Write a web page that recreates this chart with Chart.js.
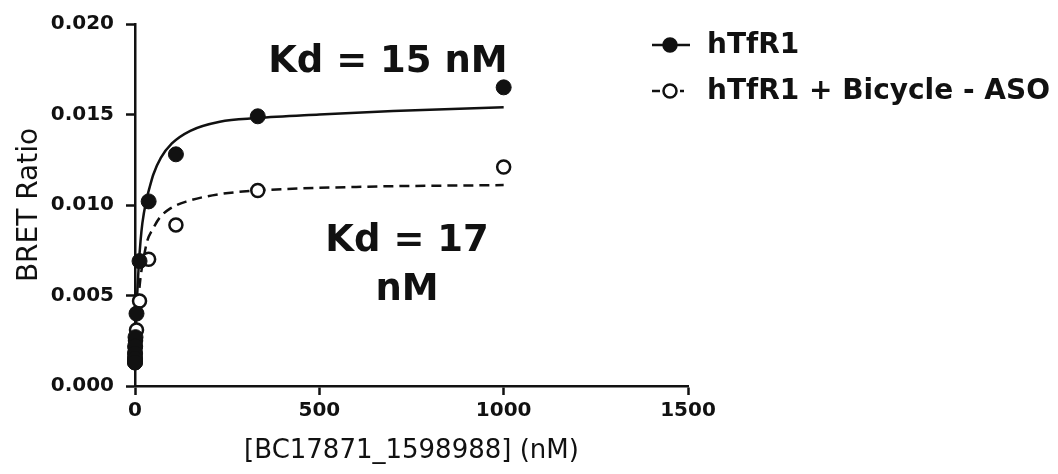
<!DOCTYPE html>
<html>
<head>
<meta charset="utf-8">
<script src="https://cdn.jsdelivr.net/npm/chart.js@4/dist/chart.umd.min.js"></script>
<style>
html,body{margin:0;padding:0;background:#fff;}
#wrap{width:1058px;height:474px;}
</style>
</head>
<body>
<div id="wrap"><canvas id="c" width="1058" height="474"></canvas></div>
<script>
// ---- data ----
const concentrations = [1000, 333, 111, 37, 12.3, 4.1, 1.37, 0.46, 0.15, 0.05, 0.017, 0.006];
const hTfR1Values    = [0.0165, 0.0149, 0.0128, 0.0102, 0.0069, 0.0040, 0.0027, 0.0022, 0.0018, 0.0015, 0.0013, 0.0013];
const bicycleValues  = [0.0121, 0.0108, 0.0089, 0.0070, 0.0047, 0.0031, 0.0025, 0.0021, 0.0018, 0.0016, 0.0015, 0.0014];

const fitSolidX = [0, 2, 5, 10, 15, 20, 30, 40, 50, 70, 100, 150, 230, 330, 500, 700, 1000];
const fitSolidY = [0.0010, 0.0028, 0.0046, 0.0066, 0.0080, 0.0090, 0.0102, 0.0110, 0.0117, 0.0126, 0.0134, 0.0141, 0.0146, 0.0148, 0.0150, 0.0152, 0.0154];
const fitDashX  = [0, 2, 5, 10, 15, 22, 33, 49, 67, 95, 141, 230, 333, 600, 1000];
const fitDashY  = [0.0010, 0.0020, 0.0033, 0.0049, 0.0060, 0.0069, 0.0080, 0.0087, 0.0093, 0.0098, 0.0102, 0.0106, 0.0108, 0.0110, 0.0111];

const seriesLabels = ['hTfR1', 'hTfR1 + Bicycle - ASO'];
const xTicks = [0, 500, 1000, 1500];
const yTicks = [0.000, 0.005, 0.010, 0.015, 0.020];
const xTitle = '[BC17871_1598988] (nM)';
const yTitle = 'BRET Ratio';
const kdNotes = [
  {text: 'Kd = 15 nM', x: 686, y: 0.0179},
  {text: 'Kd = 17',    x: 738, y: 0.0080},
  {text: 'nM',         x: 738, y: 0.0053}
];

const pts = (xs, ys) => xs.map((x, i) => ({x: x, y: ys[i]}));

const kdPlugin = {
  id: 'kdNotes',
  afterDatasetsDraw(chart) {
    const {ctx, scales} = chart;
    ctx.save();
    ctx.fillStyle = '#111';
    ctx.font = 'bold 37px "DejaVu Sans"';
    ctx.textAlign = 'center';
    ctx.textBaseline = 'middle';
    kdNotes.forEach(n => {
      ctx.fillText(n.text, scales.x.getPixelForValue(n.x), scales.y.getPixelForValue(n.y));
    });
    ctx.restore();
  }
};

const legendPlugin = {
  id: 'sideLegend',
  afterDraw(chart) {
    const {ctx} = chart;
    ctx.save();
    ctx.font = 'bold 28px "DejaVu Sans"';
    ctx.textBaseline = 'middle';
    ctx.textAlign = 'left';
    ctx.fillStyle = '#111';
    const rows = [{y: 45, ds: 0}, {y: 91, ds: 1}];
    rows.forEach((r, i) => {
      const ds = chart.data.datasets[r.ds];
      ctx.strokeStyle = '#111';
      ctx.lineWidth = 2.5;
      if (i === 0) {
        ctx.beginPath(); ctx.moveTo(652, r.y); ctx.lineTo(690, r.y); ctx.stroke();
      } else {
        ctx.beginPath(); ctx.moveTo(652, r.y); ctx.lineTo(660, r.y); ctx.stroke();
        ctx.beginPath(); ctx.moveTo(680, r.y); ctx.lineTo(684, r.y); ctx.stroke();
      }
      ctx.beginPath();
      ctx.arc(670, r.y, 6.5, 0, Math.PI * 2);
      ctx.fillStyle = ds.pointBackgroundColor;
      ctx.fill();
      ctx.stroke();
      ctx.fillStyle = '#111';
      ctx.fillText(ds.label, 707, r.y + 1);
    });
    ctx.restore();
  }
};

new Chart(document.getElementById('c'), {
  type: 'scatter',
  data: {
    datasets: [
      {
        label: seriesLabels[0],
        data: pts(concentrations, hTfR1Values),
        pointRadius: 7.5,
        pointBackgroundColor: '#111',
        pointBorderColor: '#111',
        pointBorderWidth: 1,
        showLine: false,
        clip: false,
        order: 0
      },
      {
        label: seriesLabels[1],
        data: pts(concentrations, bicycleValues),
        pointRadius: 6.5,
        pointBackgroundColor: '#fff',
        pointBorderColor: '#111',
        pointBorderWidth: 2.5,
        showLine: false,
        clip: false,
        order: 1
      },
      {
        label: 'fit1',
        data: pts(fitSolidX, fitSolidY),
        showLine: true,
        pointRadius: 0,
        borderColor: '#111',
        borderWidth: 2.5,
        cubicInterpolationMode: 'monotone',
        clip: false,
        order: 2
      },
      {
        label: 'fit2',
        data: pts(fitDashX, fitDashY),
        showLine: true,
        pointRadius: 0,
        borderColor: '#111',
        borderWidth: 2.5,
        borderDash: [10, 6],
        cubicInterpolationMode: 'monotone',
        clip: false,
        order: 3
      }
    ]
  },
  options: {
    responsive: false,
    animation: false,
    devicePixelRatio: 1,
    layout: {padding: {left: 0, top: 20, right: 370, bottom: 0}},
    plugins: {legend: {display: false}, tooltip: {enabled: false}},
    scales: {
      x: {
        type: 'linear',
        min: 0, max: 1500,
        afterBuildTicks: s => { s.ticks = xTicks.map(v => ({value: v})); },
        afterFit: s => { s.height = 88; },
        ticks: {
          color: '#111',
          font: {family: 'DejaVu Sans', weight: 'bold', size: 20},
          padding: 4,
          maxRotation: 0,
          callback: v => String(v)
        },
        grid: {drawOnChartArea: false, drawTicks: true, tickLength: 9, tickWidth: 2.5, tickColor: '#111'},
        border: {display: true, color: '#111', width: 2.5},
        title: {
          display: true, text: xTitle, color: '#111',
          font: {family: 'DejaVu Sans', size: 26},
          padding: {top: 0, bottom: 7}
        }
      },
      y: {
        type: 'linear',
        min: 0, max: 0.02,
        afterBuildTicks: s => { s.ticks = yTicks.map(v => ({value: v})); },
        afterFit: s => { s.width = 135; },
        ticks: {
          color: '#111',
          font: {family: 'DejaVu Sans', weight: 'bold', size: 20},
          padding: 12,
          callback: v => Number(v).toFixed(3)
        },
        grid: {drawOnChartArea: false, drawTicks: true, tickLength: 9, tickWidth: 2.5, tickColor: '#111'},
        border: {display: true, color: '#111', width: 2.5},
        title: {
          display: true, text: yTitle, color: '#111',
          font: {family: 'DejaVu Sans', size: 28},
          padding: {top: 13, bottom: 0}
        }
      }
    }
  },
  plugins: [kdPlugin, legendPlugin]
});
</script>
</body>
</html>
